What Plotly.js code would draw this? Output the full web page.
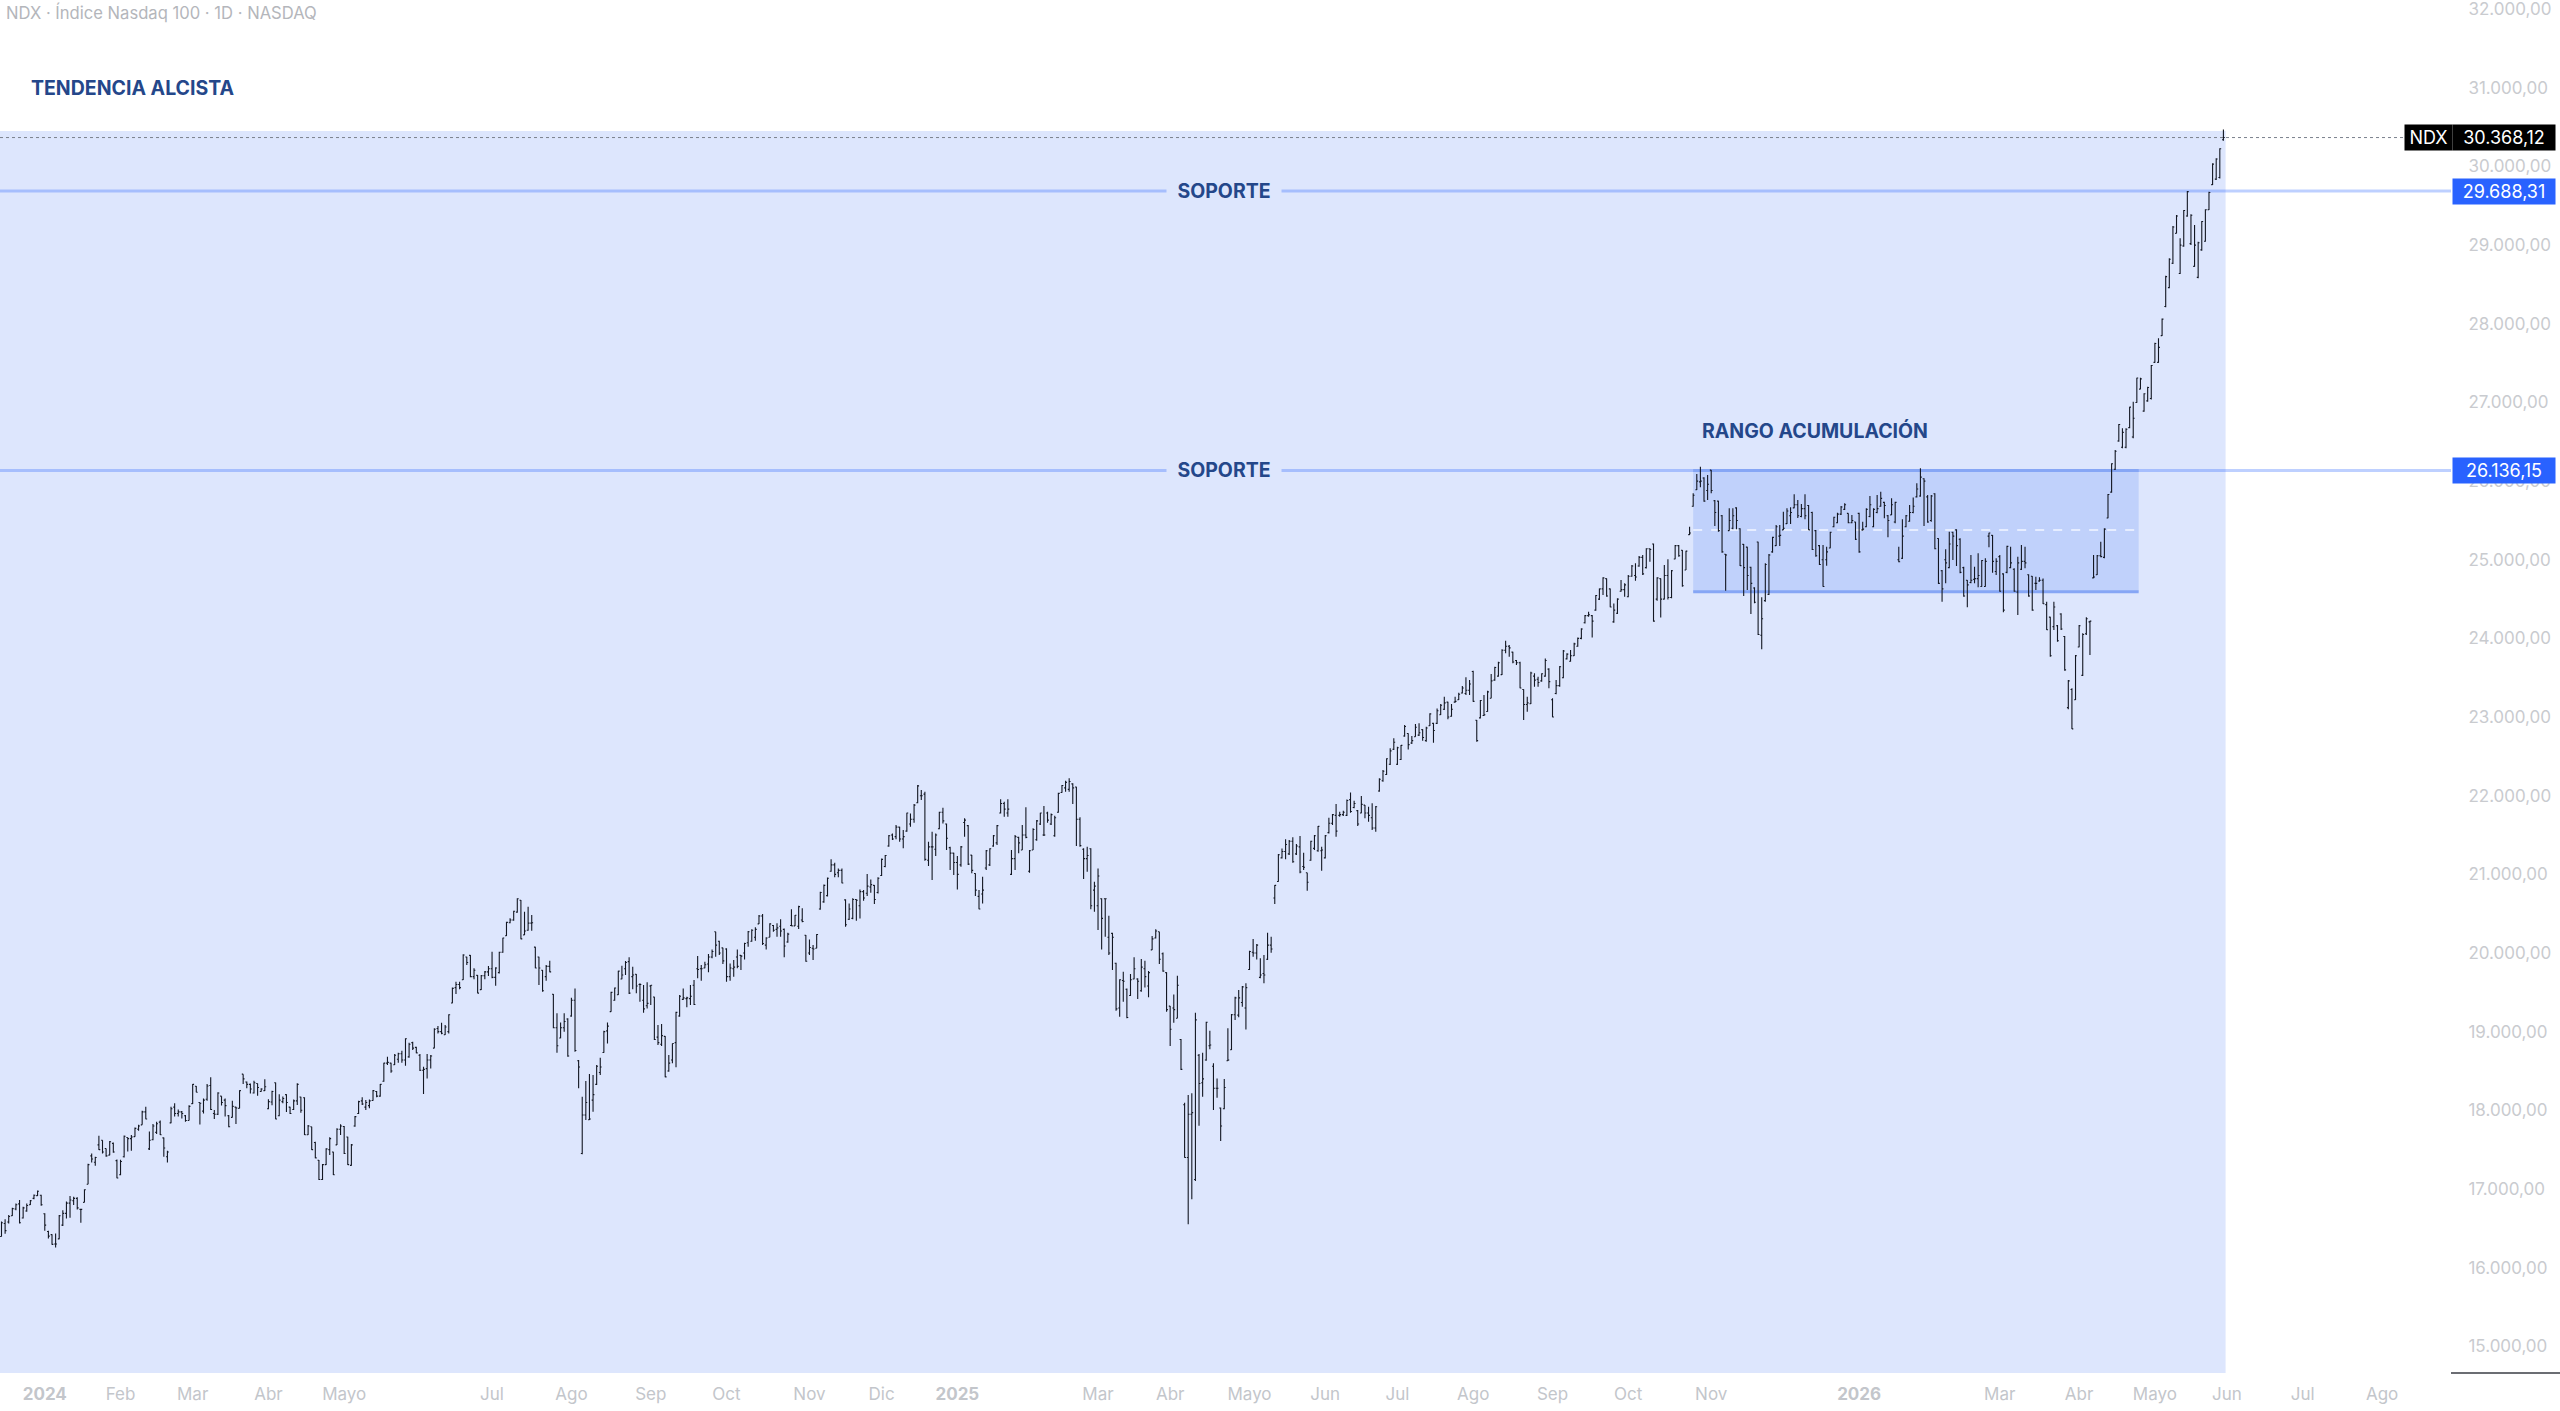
<!DOCTYPE html>
<html>
<head>
<meta charset="utf-8">
<script src="https://cdn.plot.ly/plotly-3.0.1.min.js"></script>
<style>html,body{margin:0;padding:0;background:#fff}#graph{width:2560px;height:1411px}</style>
</head>
<body>
<div id="graph"></div>
<script>
// daily bars, [open, high, low, close]
const barsEarly2024 = [
[16395,16585,16395,16570],[16560,16615,16430,16470],[16580,16670,16560,16650],[16660,16760,16655,16750],
[16745,16815,16730,16800],[16810,16860,16560,16570],[16630,16775,16625,16760],[16720,16815,16710,16790],[16800,16860,16795,16850],
[16880,16930,16870,16920],[16915,16980,16910,16970],[16920,16925,16785,16800],[16685,16690,16470,16540],
[16460,16470,16370,16400],[16420,16425,16290,16295],[16300,16435,16255,16300],[16365,16670,16360,16660],[16540,16730,16530,16690],
[16690,16840,16625,16820],[16820,16910,16635,16860],[16850,16900,16795,16880],[16880,16895,16740,16760],[16740,16745,16570,16740],
[16830,16995,16830,16990],[17060,17320,17060,17310],[17420,17450,17335,17380],[17340,17410,17295,17400],[17560,17675,17495,17500],
[17620,17620,17450,17470],[17515,17515,17410,17420],[17430,17610,17430,17600],[17580,17590,17460,17470],[17360,17375,17135,17140],
[17180,17370,17175,17350],[17410,17680,17400,17670],[17655,17655,17475,17640],[17640,17685,17485,17660],[17665,17780,17665,17770],
[17760,17815,17740,17800],[17815,17995,17815,17980],[17980,18045,17885,17890],[17510,17730,17495,17620],[17625,17825,17620,17800],
[17720,17855,17700,17830],[17850,17870,17685,17690],[17650,17655,17410,17520],[17410,17485,17335,17470],[17840,18045,17835,18020],
[18040,18090,17920,17960],[17960,18010,17920,17980],[17980,17990,17895,17960],[17930,17940,17855,17870],[17870,18065,17870,18050],[18085,18335,18080,18330],
[18305,18310,18230,18230],[18100,18100,17820,18090],[17990,18150,17960,18130],[18140,18335,18120,18310],[18315,18420,18005,18010],
[17960,18005,17890,17950],[17950,18230,17940,18220],[18180,18180,18060,18100],[18130,18150,17920,18060],[17930,17940,17785,17790],
[17910,18120,17910,18050],[18040,18045,17825,18030],[18025,18255,18025,18250],[18460,18460,18335,18400],[18360,18365,18280,18330],
[18330,18340,18215,18270],[18220,18375,18215,18350],[18340,18340,18185,18290],[18240,18280,18235,18270],[18250,18395,18245,18300],[18020,18140,18015,18110],
[18105,18250,18065,18240],[18350,18355,17885,17890],[17930,18205,17925,18130],[18110,18175,18090,18150],[18200,18205,17980,18100]
];
const barsMid2024 = [
[18040,18046,17953,17960],[18010,18139,18004,18120],[18120,18343,18067,18330],[18170,18173,17970,18000],[18160,18165,17686,17690],
[17690,17813,17686,17800],[17790,17792,17495,17500],[17590,17601,17389,17395],[17365,17368,17114,17120],[17120,17317,17114,17310],
[17310,17517,17305,17510],[17500,17656,17432,17640],[17470,17474,17177,17180],[17560,17771,17559,17760],[17760,17822,17686,17800],
[17795,17800,17444,17450],[17660,17665,17305,17310],[17300,17571,17296,17560],[17800,17927,17792,17920],[17960,18122,17953,18110],
[18120,18165,18067,18080],[18040,18131,18004,18100],[18060,18139,18025,18120],[18125,18258,18122,18250],[18240,18245,18165,18180],
[18180,18334,18173,18330],[18370,18605,18364,18600],[18600,18682,18576,18610],[18600,18605,18478,18500],[18580,18716,18576,18700],
[18650,18733,18605,18720],[18720,18758,18605,18640],[18640,18915,18568,18910],[18680,18860,18669,18840],[18860,18872,18767,18790],
[18800,18809,18724,18730],[18700,18716,18500,18510],[18510,18555,18207,18520],[18530,18716,18406,18640],[18640,18703,18533,18690],
[18790,19042,18788,19030],[19040,19072,18978,19000],[19000,19114,18966,18980],[18960,19084,18957,19060],[19000,19220,18978,19215],
[19365,19563,19360,19550],[19560,19635,19478,19600],[19600,19635,19538,19560],[19660,19983,19657,19975],[19950,19953,19847,19880],
[19970,19974,19691,19700],[19700,19805,19665,19780],[19715,19720,19487,19490],[19535,19720,19529,19710],[19710,19771,19665,19760],
[19760,19835,19708,19800],[19800,20017,19678,19690],[19690,19818,19585,19810],[19750,20017,19741,20010],[20010,20195,20004,20190],
[20220,20398,20216,20390],[20385,20441,20377,20420],[20420,20538,20411,20530],[20520,20695,20513,20690],[20670,20674,20174,20180],
[20230,20525,20229,20280],[20290,20589,20284,20380],[20380,20483,20284,20385],[20075,20080,19805,19810],[19950,19953,19593,19810],
[19780,19784,19508,19520],[19700,19847,19648,19830],[19830,19902,19754,19760],[19475,19479,19042,19050],[19050,19233,18733,18820],
[18920,19118,18915,19050],[19050,19233,18999,19130],[19160,19169,18682,18690]
];
const barsLate2024 = [
[19200,19431,19190,19400],[19400,19550,18745,18760],[18630,18639,18279,18550],[17450,18173,17440,17940],[17940,18372,17876,18100],
[17880,18461,17876,17890],[18130,18448,17982,18200],[18330,18576,18321,18560],[18480,18669,18449,18550],[18735,19012,18732,19000],
[19010,19118,18851,19070],[19255,19508,19254,19500],[19400,19563,19394,19555],[19470,19775,19466,19770],[19670,19839,19665,19720],
[19800,19898,19720,19880],[19890,19945,19478,19490],[19700,19826,19538,19720],[19730,19733,19487,19580],[19600,19614,19381,19600],
[19400,19593,19241,19290],[19330,19627,19296,19360],[19580,19593,19339,19590],[19440,19444,18894,18900],[18930,19084,18830,18860],
[18840,19097,18817,18950],[18940,18944,18419,18425],[18500,18703,18491,18600],[18640,18851,18597,18850],[18860,19254,18546,19245],
[19200,19466,19190,19450],[19410,19550,19402,19430],[19420,19444,19309,19430],[19420,19593,19339,19450],[19590,19656,19339,19345],
[19800,19962,19678,19790],[19800,19847,19648,19800],[19810,19889,19805,19850],[19860,19987,19754,19950],[19950,20046,19932,20020],
[20270,20271,19953,20100],[20150,20156,19974,20000],[20065,20067,19860,19900],[20050,20059,19635,19700],[19700,19868,19648,19810],
[19800,19911,19699,19820],[19950,20046,19805,19830],[19970,19974,19784,19960],[20000,20131,19919,20120],[20130,20279,20080,20270],
[20150,20301,20144,20290],[20200,20326,20156,20300],[20370,20483,20368,20470],[20470,20496,20101,20120],[20100,20199,20046,20190],
[20200,20377,20199,20370],[20350,20356,20271,20290],[20300,20377,20207,20320],[20340,20428,20207,20280],[20300,20313,19945,20090],
[20140,20258,20131,20240],[20350,20555,20343,20345],[20345,20483,20343,20480],[20340,20601,20305,20590],[20420,20568,20390,20400],
[20225,20229,19889,19895],[20000,20173,19974,20070],[20060,20101,19911,20050],[20060,20241,20059,20235]
];
const barsTurn2024 = [[20560,20780,20550,20770],[20650,20870,20640,20860],[20730,20960,20720,20950]];
const barsEarly2025 = [
[21040,21191,21034,21120],[21120,21148,20962,21000],[21020,21076,20962,21050],[21050,21076,20886,20890],[20675,20682,20335,20360],
[20430,20631,20419,20560],[20440,20695,20428,20680],[20680,20682,20411,20670],[20600,20809,20440,20780],[20780,20801,20665,20700],
[20760,21004,20724,20850],[20840,20936,20767,20870],[20860,20864,20623,20680],[20770,20962,20758,20950],[20985,21203,20979,21190],
[21100,21246,21089,21240],[21360,21500,21352,21490],[21500,21521,21437,21450],[21480,21627,21445,21600],[21600,21606,21415,21450],
[21450,21564,21331,21480],[21550,21784,21542,21780],[21640,21775,21606,21700],[21700,21894,21657,21880],[21910,22136,21903,22125],
[22000,22072,21945,22000],[22020,22051,21174,21190],[21180,21415,21106,21350],[21350,21542,20928,21350],[21320,21521,21233,21500],
[21580,21797,21572,21790],[21790,21847,21648,21680],[21640,21648,21309,21460],[21340,21352,21055,21270],[21270,21275,20991,21150],
[21150,21233,20809,21000],[21120,21360,21097,21350],[21660,21712,21479,21690],[21620,21627,21119,21130],[21245,21246,21013,21050],
[21010,21013,20724,20800],[20720,20801,20555,20560],[20750,20970,20631,20800],[21080,21309,21055,21300],[21120,21331,21106,21325],
[21360,21500,21352,21490],[21400,21627,21373,21620],[21780,21954,21775,21900],[21900,21924,21733,21830],[21780,21954,21733,21830],
[21000,21309,20991,21200],[21200,21500,21055,21480],[21470,21479,21267,21400],[21310,21627,21309,21500],[21500,21852,21458,21470],
[21040,21309,21021,21300],[21310,21585,21309,21570],[21440,21691,21428,21680],[21640,21784,21627,21780],[21500,21869,21487,21500],
[21780,21797,21657,21690],[21640,21775,21627,21760],[21490,21746,21479,21720],[21790,22038,21784,22030],[22040,22136,22038,22130],
[22100,22191,22051,22170],[22080,22221,22051,22180],[22150,22157,21894,22100],[22110,22115,21360,21700],[21700,21725,21352,21365],
[21320,21331,20941,21200],[21200,21352,21034,21240],[21325,21331,20555,20600],[20800,20907,20525,20850],[20600,21076,20292,20980],
[20690,20695,20046,20440],[20690,20695,20208,20690],[20200,20474,19974,20000],[20250,20258,19784,20200]
];
const barsSpring2025 = [
[19870,19877,19266,19290],[19300,19665,19190,19660],[19650,19762,19381,19640],[19540,19550,19169,19180],[19460,19733,19453,19660],
[19670,19945,19665,19800],[19670,19678,19415,19640],[19520,19923,19508,19820],[19800,19902,19563,19700],[19580,19771,19436,19750],
[20040,20216,20038,20180],[20190,20301,20186,20280],[20270,20271,19860,19920],[19990,20008,19762,19770],[19750,19754,19254,19280],
[19325,19326,18817,19030],[19300,19474,19114,19280],[19170,19712,19169,19590],[18900,18906,18512,18520],[18070,18097,17398,17400],
[17400,18194,16550,17950],[17950,18216,16868,17970],[17120,19241,17101,19150],[18700,18716,17804,18340],[18350,18732,18173,18400],
[18640,19127,18631,19120],[18820,19012,18775,18830],[18560,18597,18004,18280],[18280,18406,18160,18280],[18030,18037,17609,17800],
[18020,18398,18012,18290],[18630,19042,18627,18640],[18770,19224,18766,19215],[19215,19444,19148,19430],[19210,19529,19182,19430],
[19370,19580,19317,19570],[19300,19614,19029,19560],[19790,20029,19784,20020],[20010,20178,19953,20000],[20000,20114,19919,20100],
[19690,19932,19678,19720],[19740,19974,19614,19720],[19920,20258,19911,20100],[20100,20208,20004,20050]
];
const barsSummer2025 = [
[20700,20864,20623,20860],[20910,21258,20907,21250],[21210,21330,21203,21290],[21290,21445,21191,21380],[21260,21437,21246,21420],
[21420,21471,21148,21160],[21260,21386,21246,21360],[21350,21487,21013,21030],[21100,21275,21055,21090],[21020,21021,20792,20900],
[21180,21428,21174,21420],[21330,21500,21310,21490],[21300,21615,21288,21610],[21300,21352,21047,21310],[21210,21500,21203,21490],
[21530,21720,21521,21650],[21650,21767,21627,21760],[21750,21894,21479,21550],[21750,21797,21733,21760],[21760,21810,21742,21790],
[21750,21953,21742,21940],[21950,22042,21784,21800],[21850,21937,21839,21900],[21810,21818,21615,21640],[21780,21996,21776,21890],
[21880,21881,21712,21780],[21780,21860,21670,21750],[21720,21903,21564,21590],[21590,21869,21543,21860],[22060,22221,22051,22210],
[22190,22327,22178,22310],[22270,22475,22263,22470],[22400,22602,22390,22570],[22590,22729,22581,22680],[22400,22623,22390,22610],
[22460,22644,22454,22640],[22760,22899,22750,22880],[22790,22793,22589,22650],[22670,22759,22657,22700],[22750,22911,22750,22870],
[22770,22920,22759,22800],[22840,22844,22700,22740],[22700,22877,22687,22860],[22890,23047,22886,23040],[22920,22928,22674,22830],
[22920,23110,22911,23080],[23030,23166,23026,23150],[23100,23259,23089,23180],[23190,23195,22971,23000],[23010,23166,23005,23100],
[23190,23259,23183,23200],[23220,23310,23217,23290],[23305,23395,23301,23370],[23300,23505,23280,23340],[23340,23471,23280,23420],
[23580,23589,23195,23200],[22960,22962,22687,22700],[22990,23217,22983,23210],[23020,23280,23013,23030],[23070,23335,23068,23320],
[23240,23547,23238,23460],[23470,23640,23462,23630],[23520,23704,23513,23690],[23540,23861,23534,23850],[23850,23971,23810,23900],
[23900,23916,23767,23880],[23825,23831,23683,23700],[23720,23725,23662,23690],[23690,23704,23365,23370],[23350,23352,22962,23160],
[23160,23259,23068,23180],[23170,23577,23166,23560],[23520,23556,23386,23470],[23480,23513,23386,23440],[23460,23556,23450,23550],
[23520,23746,23513,23720],[23610,23619,23365,23450],[23220,23238,22996,23000],[23300,23471,23289,23400],[23400,23649,23386,23640],
[23500,23852,23492,23840],[23740,23810,23733,23800],[23710,23852,23704,23780],[23780,23945,23776,23930],[23900,24013,23895,24000],
[24000,24128,23988,24120],[24200,24297,24191,24290],[24290,24340,24276,24300],[24290,24297,24013,24220],[24360,24551,24352,24545],
[24500,24636,24488,24630],[24630,24776,24551,24770],[24760,24763,24530,24540],[24630,24636,24395,24400],[24210,24445,24200,24360],
[24320,24509,24310,24500],[24600,24742,24594,24620],[24620,24700,24530,24680],[24530,24806,24522,24790],[24790,24933,24784,24920],
[24800,24954,24734,24780],[24920,25047,24912,25030],[25030,25060,24806,24820],[24900,25145,24890,25140],[25140,25145,24975,25130],
[25200,25208,24212,24220],[24500,24776,24479,24770],[24760,24763,24267,24500],[24500,24933,24496,24800],[24800,25005,24496,24520],
[24520,24869,24509,24860],[25010,25187,25005,25180],[25180,25187,25039,25050]
];
const barsRange = [
[25120,25124,24658,24670],[24870,25115,24870,25110],[25320,25421,25315,25340],[25680,25844,25675,25820],[25890,26090,25887,26000],
[25990,26183,25921,26000],[26040,26048,25738,25745],[25880,26078,25760,25960],[26140,26141,25844,25880],[25750,25760,25429,25600],
[25745,25751,25357,25370],[25560,25569,25090,25100],[25070,25073,24607,25060],[25370,25654,25370,25500],[25400,25654,25387,25560],
[25660,25666,25387,25500],[25395,25399,24920,24925],[25195,25200,24539,24900],[25160,25166,24615,24800],[24905,24912,24310,24700],
[24640,24649,24446,24460],[25225,25230,24043,24050],[24040,24522,23861,24250],[24480,24955,24467,24940],[24560,25073,24552,25060],
[25100,25293,25090,25285],[25180,25442,25175,25420],[25300,25442,25175,25310],[25380,25611,25378,25400],[25460,25654,25454,25620],
[25560,25666,25454,25600],[25660,25832,25654,25700],[25700,25760,25530,25560],[25550,25709,25539,25650],[25650,25832,25514,25560],
[25690,25696,25378,25380],[25600,25611,25124,25130],[25370,25378,25039,25050],[25180,25187,24933,24940],[25000,25187,24658,24660],
[25000,25166,24925,25100],[25150,25357,25145,25350],[25420,25548,25412,25540],[25470,25599,25463,25580],[25580,25683,25569,25670],
[25640,25717,25632,25700],[25590,25590,25463,25470],[25470,25569,25463,25500],[25480,25484,25251,25260],[25590,25599,25090,25100],
[25380,25484,25370,25390],[25420,25654,25412,25640],[25550,25810,25539,25700],[25420,25654,25412,25640],[25600,25823,25590,25650],
[25680,25866,25675,25780],[25730,25738,25527,25690],[25560,25569,25285,25500],[25570,25781,25569,25700],[25480,25738,25463,25730],
[25000,25166,24967,24975],[25020,25514,25010,25300],[25420,25569,25412,25560],[25490,25696,25484,25600],[25600,25793,25590,25680],
[25800,25972,25793,25900],[25810,26162,25802,26050],[26030,26035,25429,26000],[25800,25823,25471,25480],[25500,25823,25484,25810],
[25840,25844,25132,25140],[25270,25272,24692,24700],[24860,24870,24467,24630],[25000,25132,24700,24960],[24900,25357,24891,25200],
[25350,25357,24997,25300],[25380,25387,24920,25180],[25260,25272,24827,24840],[24900,24912,24531,24540],[24740,24743,24395,24680],
[24710,25060,24700,24740],[24750,24912,24700,24760],[24760,25082,24649,24800],[24660,24997,24658,24990],[24660,25018,24658,24980],
[25300,25344,25158,25340],[25310,25315,24836,24980],[24850,25018,24806,24980],[25040,25060,24594,24600],[24820,24827,24331,24360],
[24840,25179,24827,25170],[24900,25166,24891,24960],[24880,24891,24594,24600],[24590,25039,24298,24960],[24880,25187,24870,24980],
[24980,25166,24891,24960],[24810,24815,24531,24540],[24790,24793,24353,24360],[24700,24785,24615,24700],[24730,24776,24721,24740],
[24740,24763,24437,24440],[24430,24467,24107,24110],[24270,24276,23768,23780],[24150,24467,24107,24400],[24160,24170,23958,23970],
[24310,24319,24107,24120],[24025,24031,23590,23600],[23120,23471,23098,23460],[23350,23365,22848,22850],[23220,23789,23217,23780],
[23890,24170,23886,24160],[23530,24065,23522,24050],[24060,24268,24043,24250],[24210,24225,23789,24220],[24770,25060,24764,24780],
[24810,25060,24806,25050],[25050,25230,25031,25040],[25030,25399,25018,25390],[25530,25836,25527,25830],[25860,26226,25853,26220]
];
const barsLast = [
[26150,26395,26140,26380],[26510,26726,26501,26720],[26430,26671,26417,26620],[26430,26671,26417,26660],[26680,26946,26671,26940],
[26560,27010,26544,26800],[27000,27315,26997,27310],[27170,27315,27167,27300],[26890,27116,26883,27110],[27020,27201,27010,27190],
[27050,27476,27039,27470],[27510,27760,27506,27750],[27510,27815,27506,27700],[27850,28069,27845,28060],[28220,28612,28209,28600],
[28460,28832,28451,28820],[28770,29243,28760,29230],[29150,29383,29150,29370],[28640,29087,28633,29000],[28990,29447,28980,29440],
[29370,29688,29362,29680],[29020,29392,29002,29380],[28730,29256,28726,29000],[28590,29044,28578,29030],[28940,29307,28930,29300],
[29050,29455,29044,29450],[29450,29680,29447,29670],[29770,30040,29765,30030],[29840,30104,29828,30095],[29860,30231,29849,30225],
[30340,30472,30328,30368.12]
];
const allBars = barsEarly2024.concat(barsMid2024, barsLate2024, barsTurn2024, barsEarly2025, barsSpring2025, barsSummer2025, barsRange, barsLast);

const priceTicks = [15000,16000,17000,18000,19000,20000,21000,22000,23000,24000,25000,26000,27000,28000,29000,30000,31000,32000];
const monthBars = [12,33,53,74,95,136,158,180,201,224,244,265,304,324,346,367,387,408,430,451,474,515,554,576,597,617,638,660];
const monthLabels = ['<b>2024</b>','Feb','Mar','Abr','Mayo','Jul','Ago','Sep','Oct','Nov','Dic','<b>2025</b>','Mar','Abr','Mayo','Jun','Jul','Ago','Sep','Oct','Nov','<b>2026</b>','Mar','Abr','Mayo','Jun','Jul','Ago'];

const lastPrice = 30368.12;
const upperSupport = 29688.31;
const lowerSupport = 26136.15;
const rangeLow = 24594;
const rangeMid = 25378;
const trendTop = 30451;
const rangeStartBar = 469;
const rangeEndBar = 592.5;
const trendEndBar = 616.6;

const W = 2560, H = 1411, PLOT_W = 2451, PLOT_H = 1373;
const barStep = 3.607;
const xRange = [-1.5 / barStep, (PLOT_W - 1.5) / barStep];
const yRange = [14660, 32117];
const navy = '#24478a', lineBlue = 'rgba(41,98,255,0.3)', tagBlue = '#2962ff';
const uiFont = 'Inter, "Liberation Sans", sans-serif';

function hline(price, x1, color, width, dash) {
    return {type:'line', layer:'below', xref:'x', yref:'y', x0:xRange[0], x1:x1, y0:price, y1:price, line:{color:color, width:width, dash:dash || 'solid'}};
}
function tag(text, price, bg, left, w) {
    return {xref:'paper', yref:'y', x:left, y:price, xanchor:'left', yanchor:'middle', text:text, showarrow:false,
        width:w, height:25, bgcolor:bg, borderpad:0, align:'center', font:{family:uiFont, size:18, color:'#fff'}};
}
function label(text, xBar, price, size, anchor, bg, w) {
    return {xref:'x', yref:'y', x:xBar, y:price, xanchor:anchor, yanchor:'middle', text:text, showarrow:false, width:w,
        bgcolor:bg || 'rgba(0,0,0,0)', borderpad:3, font:{family:uiFont, size:size, color:navy}};
}

const trace = {
    type:'ohlc',
    x: allBars.map((b, i) => i),
    open: allBars.map(b => b[0]),
    high: allBars.map(b => b[1]),
    low: allBars.map(b => b[2]),
    close: allBars.map(b => b[3]),
    tickwidth:0.38,
    increasing:{line:{color:'#131722', width:1.1}},
    decreasing:{line:{color:'#131722', width:1.1}},
    hoverinfo:'skip',
    showlegend:false
};

const layout = {
    width:W, height:H,
    margin:{l:0, r:W - PLOT_W, t:0, b:H - PLOT_H, pad:0},
    paper_bgcolor:'#fff', plot_bgcolor:'#fff',
    separators:',.',
    showlegend:false,
    xaxis:{
        type:'linear', range:xRange, rangeslider:{visible:false},
        showgrid:false, zeroline:false, showline:false,
        tickmode:'array', tickvals:monthBars, ticktext:monthLabels,
        ticks:'outside', ticklen:6, tickcolor:'rgba(0,0,0,0)',
        tickfont:{family:uiFont, size:17, color:'#c3c6cb'}
    },
    yaxis:{
        type:'linear', range:yRange, side:'right',
        showgrid:false, zeroline:false, showline:false,
        tickmode:'array', tickvals:priceTicks, tickformat:',.2f',
        ticks:'outside', ticklen:13, tickcolor:'rgba(0,0,0,0)', ticklabeloverflow:'allow',
        tickfont:{family:uiFont, size:17, color:'#c9cbcf'}
    },
    shapes:[
        {type:'rect', layer:'below', xref:'x', yref:'y', x0:xRange[0], x1:trendEndBar, y0:yRange[0], y1:trendTop, fillcolor:'#dde6fd', line:{width:0}},
        {type:'rect', layer:'below', xref:'x', yref:'y', x0:rangeStartBar, x1:rangeEndBar, y0:rangeLow, y1:lowerSupport, fillcolor:'#c0d1fb', line:{width:0}},
        hline(upperSupport, xRange[1], lineBlue, 3),
        hline(lowerSupport, xRange[1], lineBlue, 3),
        {type:'line', layer:'below', xref:'x', yref:'y', x0:rangeStartBar, x1:rangeEndBar, y0:lowerSupport, y1:lowerSupport, line:{color:'#86a6f5', width:3}},
        {type:'line', layer:'below', xref:'x', yref:'y', x0:rangeStartBar, x1:rangeEndBar, y0:rangeLow, y1:rangeLow, line:{color:'#86a6f5', width:3}},
        {type:'line', layer:'below', xref:'x', yref:'y', x0:rangeStartBar, x1:rangeEndBar, y0:rangeMid, y1:rangeMid, line:{color:'#e6edff', width:2, dash:'dash'}},
        hline(lastPrice, (2404 - 1.5) / barStep, '#7a808c', 1, 'dot'),
        {type:'line', xref:'paper', yref:'paper', x0:1, x1:W / PLOT_W, y0:0, y1:0, line:{color:'#3a3d44', width:1.5}}
    ],
    annotations:[
        {xref:'paper', yref:'paper', x:4 / PLOT_W, y:1 - 12 / PLOT_H, xanchor:'left', yanchor:'middle', text:'NDX · Índice Nasdaq 100 · 1D · NASDAQ', showarrow:false, font:{family:uiFont, size:16.6, color:'#b4b6bb'}},
        {xref:'paper', yref:'paper', x:29 / PLOT_W, y:1 - 88 / PLOT_H, xanchor:'left', yanchor:'middle', text:'<b>TENDENCIA ALCISTA</b>', showarrow:false, font:{family:uiFont, size:19.5, color:navy}},
        label('<b>SOPORTE</b>', 339, upperSupport, 19.5, 'center', '#dde6fd', 108),
        label('<b>SOPORTE</b>', 339, lowerSupport, 19.5, 'center', '#dde6fd', 108),
        label('<b>RANGO ACUMULACIÓN</b>', 470.2, 26643, 19.5, 'left'),
        tag('NDX', lastPrice, '#000', 1 - 47 / PLOT_W, 47),
        tag('30.368,12', lastPrice, '#000', 1 + 1 / PLOT_W, 102),
        tag('29.688,31', upperSupport, tagBlue, 1 + 1 / PLOT_W, 102),
        tag('26.136,15', lowerSupport, tagBlue, 1 + 1 / PLOT_W, 102)
    ]
};

Plotly.newPlot('graph', [trace], layout, {displayModeBar:false, staticPlot:true});
</script>
</body>
</html>
